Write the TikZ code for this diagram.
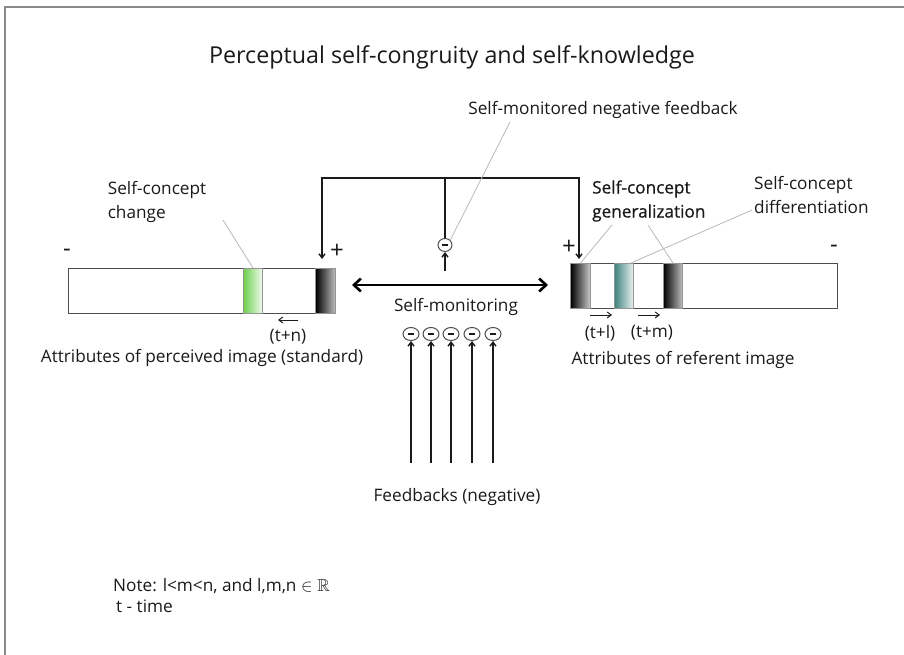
\documentclass[tikz,border=0pt]{standalone}
\usepackage{amssymb}
\usepackage{fontspec}
\setmainfont{Open Sans}
\newfontfamily\semifont[FakeBold=0.7]{Open Sans}
\usetikzlibrary{arrows.meta,positioning,shapes.geometric}
\definecolor{ink}{HTML}{1A1A1A}
\definecolor{frame}{HTML}{8A8A8A}
\definecolor{edge}{HTML}{4D4D4D}
\definecolor{lead}{HTML}{B8B8B8}
\definecolor{leaf}{HTML}{6DCF4C}
\definecolor{sea}{HTML}{3C837D}
\tikzset{
  bar/.style={draw=edge, fill=white, line width=1.3pt, anchor=north west,
              inner sep=0pt, minimum height=45pt},
  band/.style={draw=edge!60, line width=0.9pt, anchor=north west, inner sep=0pt,
               minimum height=45pt, minimum width=#1},
  lbl/.style={font=\fontsize{17.2}{24}\selectfont, text=ink, inner sep=0pt, align=left},
  sign/.style={font=\fontsize{24}{24}\selectfont, text=ink, inner sep=0pt},
  neg/.style={ellipse, draw=edge, line width=1pt, inner sep=0pt,
              minimum width=#1, minimum height=13pt,
              path picture={\draw[ink, line width=1.5pt]
                ([xshift=-3pt]path picture bounding box.center) --
                ([xshift=3pt]path picture bounding box.center);}},
  link/.style={draw=ink, line width=1.4pt},
  arr/.style={link, -{Straight Barb[length=4pt,width=6pt]}},
  leader/.style={draw=lead, line width=0.8pt},
}

\begin{document}
\begin{tikzpicture}[x=1pt, y=-1pt]
  \useasboundingbox (0,0) rectangle (904,655);
  \draw[frame, line width=2pt] (5,655) -- (5,7) -- (904,7);

  \node[font=\fontsize{23.3}{24}\selectfont, text=ink, inner sep=0pt] (title) at (452,57)
    {Perceptual self-congruity and self-knowledge};

  % perceived image (standard)
  \node[bar, minimum width=267pt] (lbar) at (68,268) {};
  \node[band=19pt, left color=leaf, right color=leaf!8] (lgreen) at (243,268) {};
  \node[band=20pt, left color=black, right color=black!25] (ldark) at (315,268) {};
  \node[sign] (lminus) at (67,253) {-};
  \node[sign] (lplus) at (337,251) {+};
  \node[lbl] (chg) at (157,202) {Self-concept\\change};
  \node[lbl, anchor=center] (tn) at (288,337) {(t+n)};
  \node[lbl, anchor=center] (lattr) at (202,358) {Attributes of perceived image (standard)};

  % referent image
  \node[bar, minimum width=267pt] (rbar) at (570,263) {};
  \node[band=20pt, left color=black, right color=black!20] (rdark) at (570,263) {};
  \node[band=19pt, left color=sea, right color=sea!10] (rteal) at (614,263) {};
  \node[band=19pt, left color=black, right color=black!25] (rdark2) at (663,263) {};
  \node[sign] (rplus) at (569,247) {+};
  \node[sign] (rminus) at (834,249) {-};
  \node[lbl, font=\fontsize{17.2}{24}\selectfont\semifont, anchor=west] (gen) at (592,201)
    {Self-concept\\generalization};
  \node[lbl, anchor=west] (dif) at (754,195) {Self-concept\\differentiation};
  \node[lbl, anchor=center] (tl) at (600,333) {(t+l)};
  \node[lbl, anchor=center] (tm) at (652,333) {(t+m)};
  \node[lbl, anchor=center] (rattr) at (683,360) {Attributes of referent image};

  % self-monitoring loop
  \coordinate (ltop) at (322,178);
  \coordinate (mtop) at (445,178);
  \coordinate (rtop) at (579,178);
  \coordinate (lin) at (322,259);
  \coordinate (rin) at (579,259);
  \node[neg=14pt] (mneg) at (445,245) {};
  \coordinate (mfb) at (445,271);
  \draw[arr] (mtop) -| (lin);
  \draw[arr] (mtop) -| (rin);
  \draw[link] (mtop) -- (mneg.north);
  \draw[arr] (mfb) -- (mneg.south);
  \node[lbl, anchor=center] (mon) at (603,110) {Self-monitored negative feedback};

  \coordinate (dl) at (352,285);
  \coordinate (dr) at (548,285);
  \draw[draw=black, line width=2.6pt, {Straight Barb[length=7pt,width=13pt]}-{Straight Barb[length=7pt,width=13pt]}]
    (dl) -- (dr);
  \node[lbl, anchor=center] (smon) at (456,307) {Self-monitoring};

  % feedbacks
  \foreach \i/\x in {1/411,2/431,3/451,4/472,5/493} {
    \node[neg=16pt] (fb\i) at (\x,334) {};
    \coordinate (fs\i) at (\x,463);
    \draw[arr] (fs\i) -- (fb\i.south);
  }
  \node[lbl, anchor=center] (fbk) at (457,497) {Feedbacks (negative)};

  % time shifts
  \coordinate (tna) at (298,320); \coordinate (tnb) at (278,320);
  \coordinate (tla) at (590,315); \coordinate (tlb) at (612,315);
  \coordinate (tma) at (638,315); \coordinate (tmb) at (660,315);
  \draw[arr, line width=1pt] (tna) -- (tnb);
  \draw[arr, line width=1pt] (tla) -- (tlb);
  \draw[arr, line width=1pt] (tma) -- (tmb);

  % leader lines
  \coordinate (chgend) at (223,220);
  \coordinate (monend) at (510,122);
  \coordinate (gena) at (612,225);
  \coordinate (genb) at (648,225);
  \coordinate (difend) at (752,210);
  \draw[leader] (chgend) -- (lgreen.north);
  \draw[leader] (monend) -- (mneg.north east);
  \draw[leader] (gena) -- (rdark.north);
  \draw[leader] (genb) -- (rdark2.north);
  \draw[leader] (difend) -- ([xshift=-3pt]rteal.north east);

  \node[lbl, anchor=west] (note) at (113,586) {Note: l<m<n, and l,m,n $\in\mathbb{R}$};
  \node[lbl, anchor=west] (tnote) at (116,606) {t - time};
\end{tikzpicture}
\end{document}
